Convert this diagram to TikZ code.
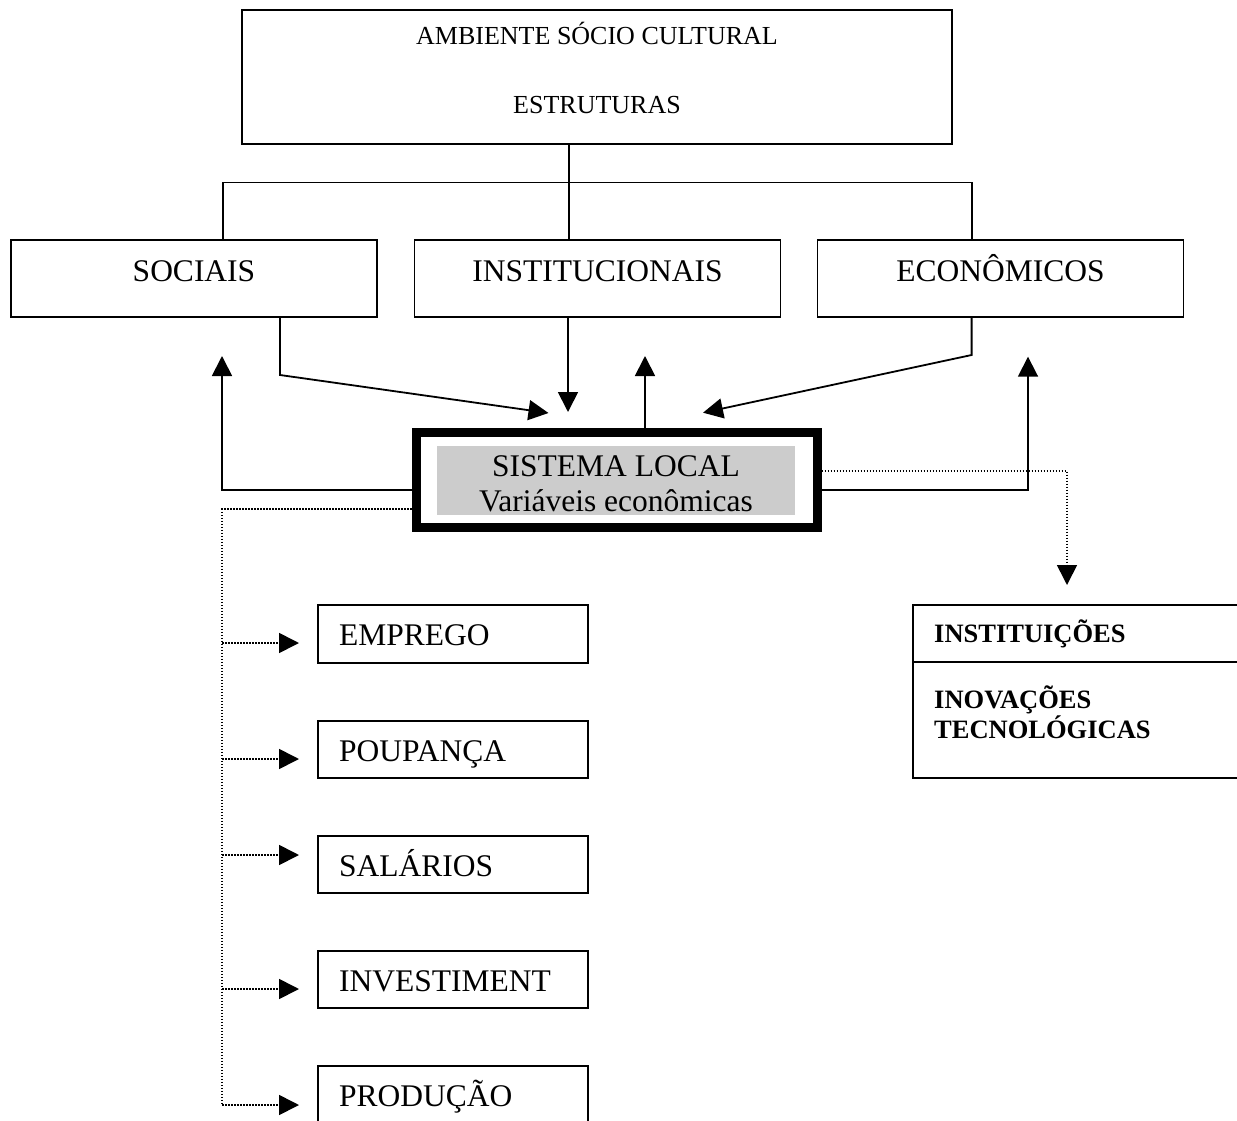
\documentclass[tikz,border=0pt]{standalone}
\usepackage{fontspec}
\setmainfont{Liberation Serif}
\usetikzlibrary{arrows.meta}
\begin{document}
\begin{tikzpicture}[x=1pt,y=-1pt,
  frame/.style={draw, line width=1.8pt, inner sep=0pt, outer sep=0pt},
  big/.style={font=\fontsize{31.5}{36}\selectfont},
  small/.style={font=\fontsize{26}{30}\selectfont},
  smallbf/.style={font=\fontsize{26.5}{30}\selectfont\bfseries},
  lbl/.style={anchor=base, inner sep=0pt},
  lblleft/.style={anchor=base west, inner sep=0pt},
  link/.style={line width=1.8pt},
  tip/.style={-{Triangle[length=20pt,width=20pt]}},
  arr/.style={link, tip},
  dots/.style={line width=1.7pt, dash pattern=on 1.5pt off 1.5pt},
  darr/.style={dots, tip}]
\useasboundingbox (0,0) rectangle (1237,1121);
\clip (0,0) rectangle (1237,1121);

% upper level: environment and structures
\node[frame, minimum width=710pt, minimum height=134pt] (top) at (597,77) {};
\node[lbl, small] (topa) at (597,45) {AMBIENTE SÓCIO CULTURAL};
\node[lbl, small] (topb) at (597,113.3) {ESTRUTURAS};

\node[frame, minimum width=366pt, minimum height=77pt] (soc) at (194,278.5) {};
\node[frame, minimum width=366pt, minimum height=77pt] (ins) at (597.5,278.5) {};
\node[frame, minimum width=366pt, minimum height=77pt] (eco) at (1000.5,278.5) {};
\node[lbl, big] (soct) at (194,281) {SOCIAIS};
\node[lbl, big] (inst) at (597.5,281) {INSTITUCIONAIS};
\node[lbl, big] (ecot) at (1000.5,281) {ECONÔMICOS};

% local system
\node[draw, line width=9pt, inner sep=0pt, minimum width=401pt, minimum height=94.5pt] (cen) at (616.5,480) {};
\node[fill=black!20, inner sep=0pt, minimum width=357.6pt, minimum height=69pt] (grey) at (615.8,480.5) {};
\node[lbl, big] (cena) at (616,476) {SISTEMA LOCAL};
\node[lbl, big] (cenb) at (616,511.7) {Variáveis econômicas};

% economic variables
\foreach \n/\t/\y in {emp/EMPREGO/634, pou/POUPANÇA/749.5, sal/SALÁRIOS/864.5, inv/INVESTIMENT/979.5, pro/PRODUÇÃO/1094.5}{
  \node[frame, minimum width=270pt, minimum height=57.5pt] (\n) at (453,\y) {};
  \node[lblleft, big] (\n t) at ([xshift=21pt, yshift=-11.7pt]\n.west) {\t};
}

% institutions and innovation
\node[frame, minimum width=387pt, minimum height=173pt] (itn) at (1106.5,691.5) {};
\coordinate (div) at (913,661.7);
\draw[link] (div) -- (div -| itn.east);
\node[lblleft, smallbf] (itna) at (934,642) {INSTITUIÇÕES};
\node[lblleft, smallbf] (itnb) at (934,708.5) {INOVAÇÕES};
\node[lblleft, smallbf] (itnc) at (934,738.3) {TECNOLÓGICAS};

% bends and free ends of the connectors
\coordinate (stem) at (569,182.5);
\coordinate (bl) at (222.7,182.5);
\coordinate (br) at (971.6,182.5);
\coordinate (sb) at (280,375);
\coordinate (st) at (548.5,413);
\coordinate (it) at (568,412);
\coordinate (ut) at (645,356);
\coordinate (eb) at (971.6,355);
\coordinate (et) at (703,412.7);
\coordinate (lb) at (222,490);
\coordinate (lt) at (222,356);
\coordinate (rb) at (1028,490);
\coordinate (rt) at (1028,356.7);
\coordinate (db) at (1067,471);
\coordinate (dt) at (1067,585);
\coordinate (sp) at (222,509.3);
\coordinate (spe) at (222,1105);

% structure tree
\draw[link] (top.south -| stem) -- (ins.north -| stem);
\draw[link] (soc.north -| bl) -- (bl) -- (br) -- (eco.north -| br);

% influences on the local system
\draw[arr] (soc.south -| sb) -- (sb) -- (st);
\draw[arr] (ins.south -| it) -- (it);
\draw[arr] (eco.south -| eb) -- (eb) -- (et);
\draw[arr] (cen.north -| ut) -- (ut);
\draw[arr] (cen.west |- lb) -- (lb) -- (lt);
\draw[arr] (cen.east |- rb) -- (rb) -- (rt);

% dotted links
\draw[darr] (cen.east |- db) -- (db) -- (dt);
\draw[dots] (cen.west |- sp) -- (sp) -- (spe);
\draw[darr, shorten >=19pt] (spe) -- (pro.west |- spe);
\foreach \n/\y in {emp/643, pou/759, sal/855, inv/989}{
  \draw[darr, shorten >=19pt] (sp |- 0,\y) -- (\n.west |- 0,\y);
}
\end{tikzpicture}
\end{document}
